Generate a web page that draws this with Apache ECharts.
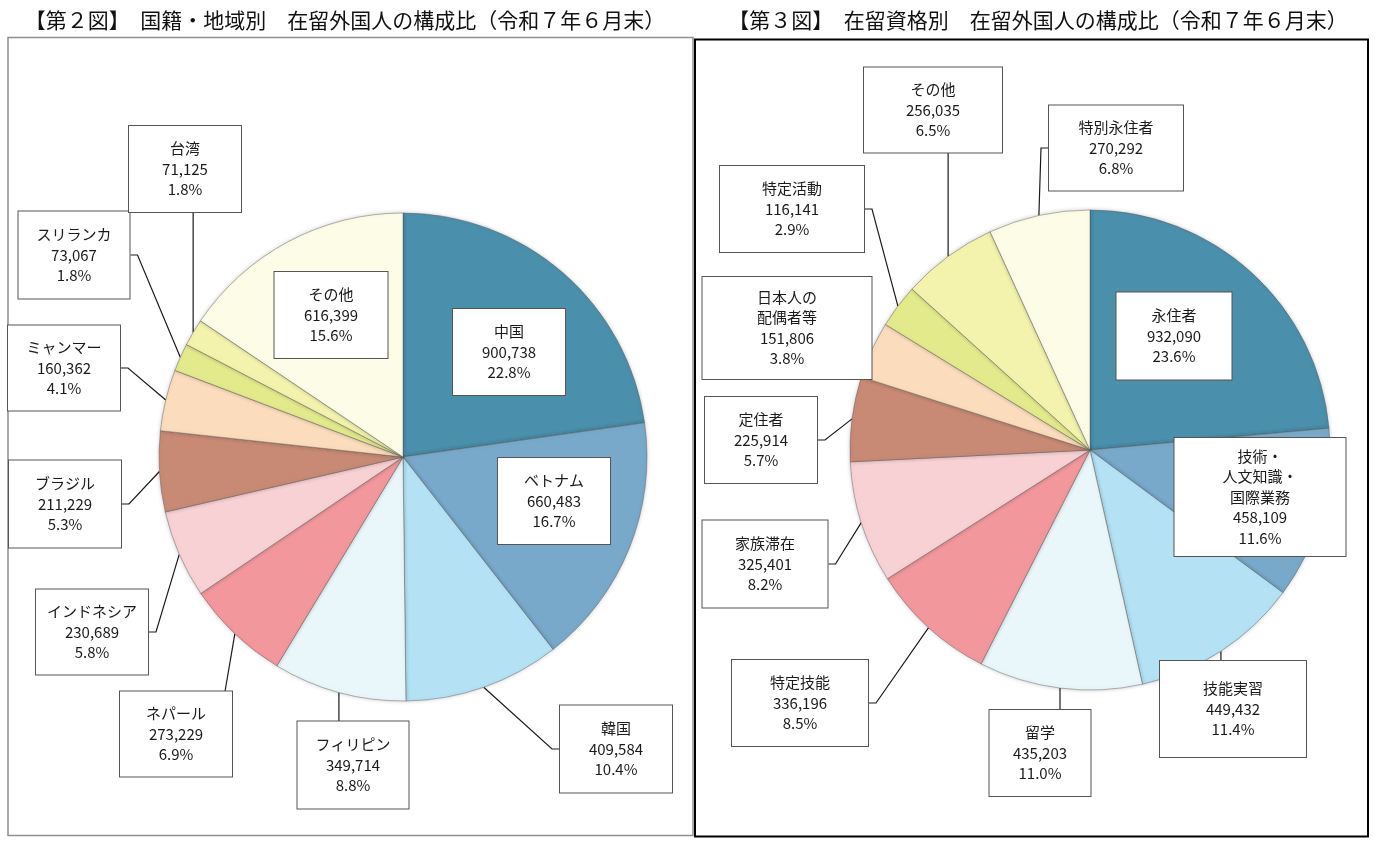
<!DOCTYPE html>
<html>
<head>
<meta charset="utf-8">
<script src="https://cdn.jsdelivr.net/npm/echarts@6/dist/echarts.min.js"></script>
<style>
  html, body { margin: 0; padding: 0; background: #fff; }
  #main { width: 1377px; height: 841px; }
</style>
</head>
<body>
<div id="main"></div>
<script>
// 第2図 国籍・地域別
var nationNames = ['中国', 'ベトナム', '韓国', 'フィリピン', 'ネパール', 'インドネシア', 'ブラジル', 'ミャンマー', 'スリランカ', '台湾', 'その他'];
var nationValues = [900738, 660483, 409584, 349714, 273229, 230689, 211229, 160362, 73067, 71125, 616399];

// 第3図 在留資格別
var statusNames = ['永住者', '技術・\n人文知識・\n国際業務', '技能実習', '留学', '特定技能', '家族滞在', '定住者', '日本人の\n配偶者等', '特定活動', 'その他', '特別永住者'];
var statusValues = [932090, 458109, 449432, 435203, 336196, 325401, 225914, 151806, 116141, 256035, 270292];

var titles = ['【第２図】　国籍・地域別　在留外国人の構成比（令和７年６月末）',
              '【第３図】　在留資格別　在留外国人の構成比（令和７年６月末）'];

var palette = ['#4a8fab', '#78a9ca', '#b4e1f3', '#e9f6fa', '#f2989c', '#f8d1d4',
               '#c88a75', '#fbdcbd', '#e2ea8c', '#f3f3ad', '#fdfce7'];

// label boxes: centre x, centre y, width, height, side the leader line leaves from
var nationBoxes = [
  [509, 352, 114, 86, 'n'], [554, 501, 114, 86, 'n'], [616, 749, 114, 87, 'l'],
  [353, 765, 113, 87, 't'], [176, 734, 114, 85, 't'], [92, 632, 114, 85, 'r'],
  [65, 504, 114, 87, 'r'], [64, 368, 114, 85, 'r'], [74, 255, 113, 87, 'r'],
  [185, 169, 114, 86, 'b'], [331, 315, 115, 86, 'n']
];
var statusBoxes = [
  [1174, 336, 117, 87, 'n'], [1260, 497, 173, 118, 'n'], [1233, 709, 148, 96, 't'],
  [1040, 753, 103, 86, 't'], [800, 703, 138, 86, 'r'], [765, 564, 127, 87, 'r'],
  [761, 440, 114, 86, 'r'], [787, 328, 171, 102, 'n'], [792, 209, 146, 86, 'r'],
  [933, 110, 140, 85, 'b'], [1116, 148, 136, 85, 'l']
];

var FONT = '"Noto Sans CJK JP", "Noto Sans", sans-serif';
var LH = 20.5;

var chart = echarts.init(document.getElementById('main'));

function fmt(v) {
  return String(v).replace(/\B(?=(\d{3})+(?!\d))/g, ',');
}

function buildData(names, values, boxes) {
  return names.map(function (n, i) {
    var lines = n.split('\n').length + 2;
    var pv = (boxes[i][3] - lines * LH) / 2;
    return {
      name: n,
      value: values[i],
      itemStyle: { color: palette[i] },
      label: { width: boxes[i][2] - 2, padding: [pv, 0, pv, 0] },
      labelLine: { show: boxes[i][4] !== 'n' }
    };
  });
}

// leader line: from the box side to the middle of the slice's outer arc
function leader(box, seriesIndex, dataIndex) {
  var lay = chart.getModel().getSeriesByIndex(seriesIndex).getData().getItemLayout(dataIndex);
  var mid = (lay.startAngle + lay.endAngle) / 2;
  var ax = lay.cx + lay.r * Math.cos(mid);
  var ay = lay.cy + lay.r * Math.sin(mid);
  var l = box[0] - box[2] / 2, r = box[0] + box[2] / 2;
  var t = box[1] - box[3] / 2, b = box[1] + box[3] / 2;
  var stub = 7;
  if (box[4] === 'r') return [[r, box[1]], [r + stub, box[1]], [ax, ay]];
  if (box[4] === 'l') return [[l, box[1]], [l - stub, box[1]], [ax, ay]];
  var x = Math.min(Math.max(ax, l + 8), r - 8);
  if (box[4] === 't') return [[x, t], [ax, ay]];
  return [[x, b], [ax, ay]];
}

function pieSeries(names, values, boxes, center, radius) {
  return {
    type: 'pie',
    center: center,
    radius: radius,
    startAngle: 90,
    clockwise: true,
    avoidLabelOverlap: false,
    percentPrecision: 1,
    animation: false,
    emphasis: { scale: false },
    itemStyle: {
      borderColor: 'rgba(90,90,90,0.45)',
      borderWidth: 1,
      shadowBlur: 4,
      shadowColor: 'rgba(0,0,0,0.2)'
    },
    label: {
      show: true,
      position: 'outside',
      fontFamily: FONT,
      fontSize: 15,
      lineHeight: LH,
      color: '#1a1a1a',
      align: 'center',
      backgroundColor: '#fff',
      borderColor: '#555',
      borderWidth: 1,
      formatter: function (p) {
        return p.name + '\n' + fmt(p.value) + '\n' + p.percent.toFixed(1) + '%';
      }
    },
    labelLine: {
      show: true,
      length: 10,
      length2: 8,
      smooth: false,
      lineStyle: { color: '#1a1a1a', width: 1.2 }
    },
    labelLayout: function (params) {
      var box = boxes[params.dataIndex];
      var res = { x: box[0], y: box[1], align: 'center', verticalAlign: 'middle' };
      if (box[4] !== 'n') {
        res.labelLinePoints = leader(box, params.seriesIndex, params.dataIndex);
      }
      return res;
    },
    data: buildData(names, values, boxes)
  };
}

var option = {
  backgroundColor: '#fff',
  animation: false,
  graphic: [
    {
      type: 'rect', z: 0, silent: true,
      shape: { x: 8, y: 37.5, width: 685, height: 798 },
      style: { fill: '#fff', stroke: '#8f8f8f', lineWidth: 1.5 }
    },
    {
      type: 'rect', z: 0, silent: true,
      shape: { x: 695, y: 39.5, width: 673, height: 797 },
      style: { fill: '#fff', stroke: '#000', lineWidth: 2 }
    },
    {
      type: 'text', z: 1, silent: true, x: 345, y: 20,
      style: { text: titles[0], font: '21px ' + FONT, fill: '#111',
               align: 'center', verticalAlign: 'middle', textAlign: 'center', textVerticalAlign: 'middle' }
    },
    {
      type: 'text', z: 1, silent: true, x: 1038, y: 20,
      style: { text: titles[1], font: '21px ' + FONT, fill: '#111',
               align: 'center', verticalAlign: 'middle', textAlign: 'center', textVerticalAlign: 'middle' }
    }
  ],
  series: [
    pieSeries(nationNames, nationValues, nationBoxes, [403, 457], 244),
    pieSeries(statusNames, statusValues, statusBoxes, [1090, 450], 240)
  ]
};

chart.setOption(option);
</script>
</body>
</html>
